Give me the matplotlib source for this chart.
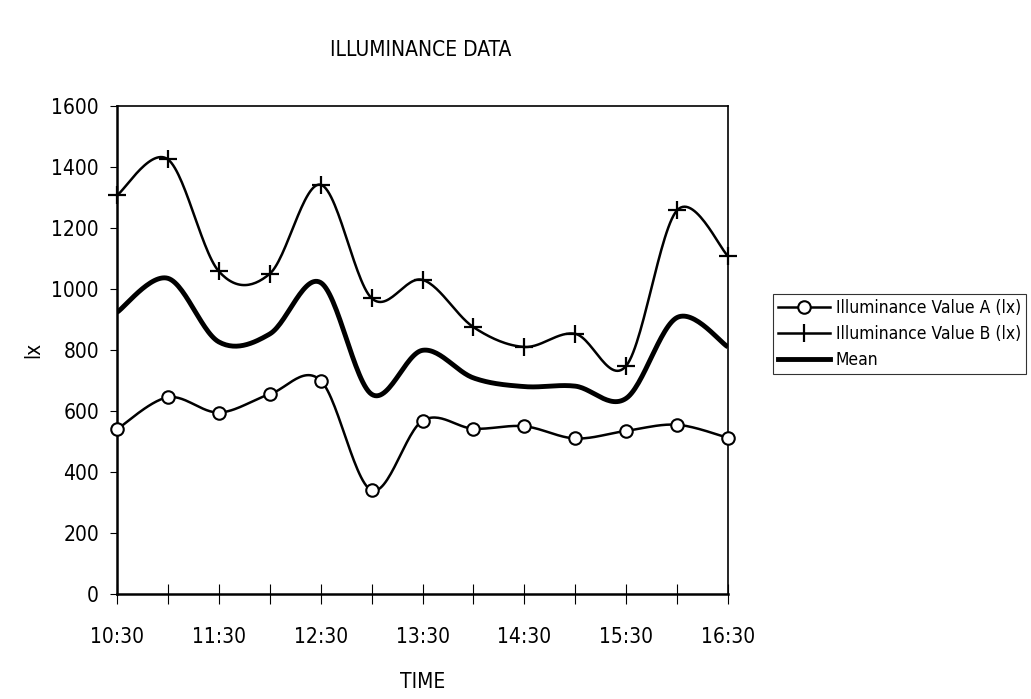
import numpy as np
import matplotlib
matplotlib.use('Agg')
import matplotlib.pyplot as plt
from matplotlib import font_manager

times = ['10:30', '11:00', '11:30', '12:00', '12:30', '13:00', '13:30',
         '14:00', '14:30', '15:00', '15:30', '16:00', '16:30']
value_a = [540, 645, 595, 655, 700, 340, 568, 542, 550, 510, 535, 555, 512]
value_b = [1307, 1425, 1058, 1050, 1342, 970, 1030, 875, 810, 853, 748, 1258, 1108]
mean_ab = [(a + b) / 2 for a, b in zip(value_a, value_b)]

# pick a narrow face if one is around
narrow = [f for f in font_manager.fontManager.ttflist
          if f.stretch in ('condensed', 'semi-condensed', 'extra-condensed')
          or 'Narrow' in f.name or 'Condensed' in f.name]
if narrow:
    plt.rcParams['font.family'] = [narrow[0].name, 'DejaVu Sans']
    plt.rcParams['font.stretch'] = narrow[0].stretch
    size = 15
else:
    plt.rcParams['font.family'] = ['DejaVu Sans']
    size = 12.5


def smooth(xs, ys, n=30):
    # bezier smoothing through every point, like a spreadsheet "smoothed line"
    xs = np.asarray(xs, float)
    ys = np.asarray(ys, float)
    px = np.concatenate([[xs[0]], xs, [xs[-1]]])
    py = np.concatenate([[ys[0]], ys, [ys[-1]]])
    out_x, out_y = [], []
    t = np.linspace(0, 1, n)
    for i in range(1, len(px) - 2):
        p0 = np.array([px[i], py[i]])
        p3 = np.array([px[i + 1], py[i + 1]])
        p1 = p0 + (np.array([px[i + 1], py[i + 1]]) - np.array([px[i - 1], py[i - 1]])) / 6
        p2 = p3 - (np.array([px[i + 2], py[i + 2]]) - np.array([px[i], py[i]])) / 6
        pts = ((1 - t) ** 3)[:, None] * p0 + (3 * (1 - t) ** 2 * t)[:, None] * p1 \
            + (3 * (1 - t) * t ** 2)[:, None] * p2 + (t ** 3)[:, None] * p3
        out_x.extend(pts[:, 0])
        out_y.extend(pts[:, 1])
    return out_x, out_y


x = np.arange(len(times))

fig = plt.figure(figsize=(10.31, 6.99), dpi=100)
ax = fig.add_axes([117 / 1031, 1 - 594 / 699, 611 / 1031, 488 / 699])

sx, sy = smooth(x, value_a)
ax.plot(sx, sy, color='black', lw=1.8, zorder=3)
ax.plot(x, value_a, ls='none', marker='o', ms=9, mfc='white', mec='black', mew=1.5,
        zorder=4, clip_on=False)
sx, sy = smooth(x, value_b)
ax.plot(sx, sy, color='black', lw=1.8, zorder=3)
ax.plot(x, value_b, ls='none', marker='+', ms=13, mec='black', mew=1.6,
        zorder=4, clip_on=False)
sx, sy = smooth(x, mean_ab)
ax.plot(sx, sy, color='black', lw=3.5, zorder=3, solid_capstyle='butt')

ax.set_xlim(0, len(times) - 1)
ax.set_ylim(0, 1600)
ax.set_yticks(range(0, 1601, 200))
ax.set_xticks(x)
ax.set_xticklabels([t if i % 2 == 0 else '' for i, t in enumerate(times)])
ax.tick_params(axis='y', direction='out', length=5, width=0.8, labelsize=size, pad=8)
ax.tick_params(axis='x', direction='inout', length=14, width=0.8, labelsize=size, pad=17)
for side in ['left', 'bottom']:
    ax.spines[side].set_linewidth(1.8)
for side in ['top', 'right']:
    ax.spines[side].set_linewidth(1.2)

ax.set_xlabel('TIME', fontsize=size)
ax.xaxis.set_label_coords(0.5, -0.16)
ax.set_ylabel('lx', fontsize=size)
ax.yaxis.set_label_coords(-0.12, 0.5)
fig.text(421 / 1031, 1 - 50 / 699, 'ILLUMINANCE DATA', ha='center', va='center',
         fontsize=size)

h_a, = ax.plot([], [], color='black', lw=1.8, marker='o', ms=9, mfc='white', mew=1.5)
h_b, = ax.plot([], [], color='black', lw=1.8, marker='|', ms=13, mew=1.6)
h_m, = ax.plot([], [], color='black', lw=3.5)
leg = fig.legend([h_a, h_b, h_m],
                 ['Illuminance Value A (lx)', 'Illuminance Value B (lx)', 'Mean'],
                 loc='upper left', bbox_to_anchor=(773 / 1031, 1 - 294 / 699),
                 fontsize=size - 2.5, frameon=True, fancybox=False, handlelength=3.0,
                 handletextpad=0.3, labelspacing=0.45, borderpad=0.3,
                 borderaxespad=0)
leg.get_frame().set_edgecolor('black')
leg.get_frame().set_linewidth(0.8)

fig.savefig('out.png', dpi=100, facecolor='white')
